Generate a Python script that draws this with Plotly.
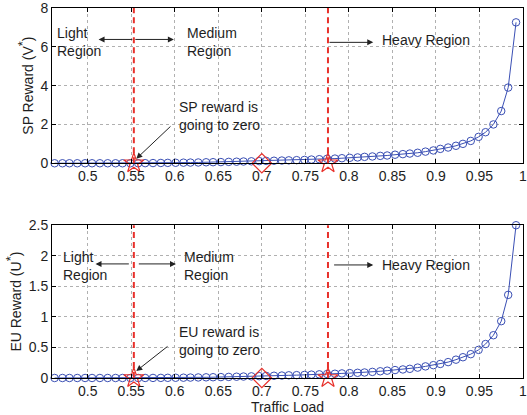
import plotly.graph_objects as go
from plotly.subplots import make_subplots

# ---------------- data ----------------
traffic_load = [0.462, 0.471, 0.479, 0.488, 0.497, 0.505, 0.514, 0.523, 0.532, 0.540,
                0.549, 0.558, 0.566, 0.575, 0.584, 0.592, 0.601, 0.610, 0.618, 0.627,
                0.636, 0.644, 0.653, 0.662, 0.671, 0.679, 0.688, 0.697, 0.705, 0.714,
                0.723, 0.731, 0.740, 0.749, 0.757, 0.766, 0.775, 0.784, 0.792, 0.801,
                0.810, 0.818, 0.827, 0.836, 0.844, 0.853, 0.862, 0.870, 0.879, 0.888,
                0.897, 0.905, 0.914, 0.923, 0.931, 0.940, 0.949, 0.957, 0.966, 0.975,
                0.983, 0.992]

sp_reward = [0, 0, 0, 0, 0, 0, 0, 0, 0, 0,
             0, 0, 0.005, 0.01, 0.015, 0.02, 0.025, 0.03, 0.035, 0.04,
             0.05, 0.055, 0.06, 0.07, 0.08, 0.09, 0.10, 0.11, 0.12, 0.13,
             0.14, 0.15, 0.16, 0.17, 0.19, 0.21, 0.23, 0.24, 0.26, 0.28,
             0.30, 0.33, 0.35, 0.38, 0.40, 0.44, 0.47, 0.50, 0.54, 0.60,
             0.66, 0.74, 0.81, 0.90, 1.00, 1.15, 1.36, 1.60, 2.00, 2.69,
             3.90, 7.26]

eu_reward = [0, 0, 0, 0, 0, 0, 0, 0, 0, 0,
             0, 0, 0.0005, 0.001, 0.002, 0.003, 0.004, 0.005, 0.007, 0.009,
             0.011, 0.013, 0.015, 0.018, 0.021, 0.024, 0.027, 0.030, 0.034, 0.037,
             0.040, 0.044, 0.047, 0.050, 0.055, 0.060, 0.065, 0.070, 0.075, 0.080,
             0.085, 0.090, 0.100, 0.110, 0.120, 0.130, 0.140, 0.150, 0.170, 0.190,
             0.210, 0.230, 0.260, 0.300, 0.340, 0.390, 0.460, 0.556, 0.700, 0.930,
             1.360, 2.500]

light_medium_boundary = 0.553
medium_heavy_boundary = 0.776
diamond_load = [0.7]
star_loads = [light_medium_boundary, medium_heavy_boundary]

x_tickvals = [0.5, 0.55, 0.6, 0.65, 0.7, 0.75, 0.8, 0.85, 0.9, 0.95, 1.0]
x_ticktext = ["0.5", "0.55", "0.6", "0.65", "0.7", "0.75", "0.8", "0.85", "0.9", "0.95", "1"]
sp_tickvals = [0, 2, 4, 6, 8]
eu_tickvals = [0, 0.5, 1, 1.5, 2, 2.5]
eu_ticktext = ["0", "0.5", "1", "1.5", "2", "2.5"]

# ---------------- styling ----------------
BLUE = "#3a4fb4"
RED = "#e8312b"
TXT = "#1e1e1e"
FONT = "Liberation Sans, Arial, sans-serif"
FS = 14

fig = make_subplots(rows=2, cols=1, vertical_spacing=0.1)

for row, yvals in ((1, sp_reward), (2, eu_reward)):
    fig.add_trace(go.Scatter(
        x=traffic_load, y=yvals, mode="lines+markers",
        line=dict(color=BLUE, width=1),
        marker=dict(symbol="circle-open", size=7.5, color=BLUE, line=dict(width=1)),
        cliponaxis=False, showlegend=False), row=row, col=1)
    fig.add_trace(go.Scatter(
        x=star_loads, y=[0, 0], mode="markers",
        marker=dict(symbol="star-open", size=15, color=RED, line=dict(width=1.2)),
        cliponaxis=False, showlegend=False), row=row, col=1)
    fig.add_trace(go.Scatter(
        x=diamond_load, y=[0], mode="markers",
        marker=dict(symbol="diamond-open", size=15, color=RED, line=dict(width=1.2)),
        cliponaxis=False, showlegend=False), row=row, col=1)
    for xb in (light_medium_boundary, medium_heavy_boundary):
        fig.add_vline(x=xb, line=dict(color=RED, width=2, dash="6px,4px"), row=row, col=1)

common_x = dict(range=[0.459, 1.0], tickvals=x_tickvals, ticktext=x_ticktext,
                showgrid=True, gridcolor="#b0b0b0", griddash="dot", gridwidth=1,
                showline=True, linecolor="black", linewidth=1, mirror="ticks",
                ticks="inside", ticklen=4, tickcolor="black", ticklabeloverflow="allow",
                tickfont=dict(size=FS, color=TXT, family=FONT), zeroline=False)
common_y = dict(showgrid=True, gridcolor="#b0b0b0", griddash="dot", gridwidth=1,
                showline=True, linecolor="black", linewidth=1, mirror="ticks",
                ticks="inside", ticklen=4, tickcolor="black", ticklabeloverflow="allow",
                tickfont=dict(size=FS, color=TXT, family=FONT), zeroline=False)

STAR = "<sup><span style='font-size:13px'>*</span></sup>"

fig.update_xaxes(**common_x, row=1, col=1)
fig.update_xaxes(**common_x, row=2, col=1,
                 title=dict(text="Traffic Load", font=dict(size=FS, color=TXT, family=FONT), standoff=1))
fig.update_yaxes(**common_y, row=1, col=1, range=[0, 8], tickvals=sp_tickvals,
                 title=dict(text="SP Reward (V" + STAR + ")", font=dict(size=FS, color=TXT, family=FONT), standoff=3))
fig.update_yaxes(**common_y, row=2, col=1, range=[0, 2.5], tickvals=eu_tickvals, ticktext=eu_ticktext,
                 title=dict(text="EU Reward (U" + STAR + ")", font=dict(size=FS, color=TXT, family=FONT), standoff=3))

fig.update_layout(
    width=527, height=415,
    margin=dict(l=52, r=0, t=5, b=37),
    paper_bgcolor="white", plot_bgcolor="white",
    font=dict(family=FONT, color=TXT, size=FS),
    yaxis=dict(domain=[0.5804, 1.0]),
    yaxis2=dict(domain=[0.0, 0.4129]),
)

def text_note(x, y, text, xref, yref):
    fig.add_annotation(x=x, y=y, xref=xref, yref=yref, text=text, showarrow=False,
                       xanchor="left", yanchor="middle", align="left",
                       font=dict(size=FS, color=TXT, family=FONT))

def arrow(x_head, y_head, x_tail, y_tail, xref, yref):
    fig.add_annotation(x=x_head, y=y_head, ax=x_tail, ay=y_tail, xref=xref, yref=yref,
                       axref=xref, ayref=yref, text="", showarrow=True,
                       arrowhead=2, arrowsize=1.2, arrowwidth=1, arrowcolor="#222222")

# top panel
text_note(0.4620, 6.23, "Light<br>Region", "x", "y")
text_note(0.6116, 6.23, "Medium<br>Region", "x", "y")
arrow(0.5125, 6.38, 0.553, 6.38, "x", "y")
arrow(0.599, 6.38, 0.553, 6.38, "x", "y")
text_note(0.8360, 6.35, "Heavy Region", "x", "y")
arrow(0.828, 6.23, 0.776, 6.23, "x", "y")
text_note(0.6020, 2.46, "SP reward is<br>going to zero", "x", "y")
arrow(0.5558, 0.23, 0.5968, 1.97, "x", "y")

# bottom panel
text_note(0.4690, 1.826, "Light<br>Region", "x2", "y2")
text_note(0.6080, 1.84, "Medium<br>Region", "x2", "y2")
arrow(0.509, 1.867, 0.549, 1.867, "x2", "y2")
arrow(0.6014, 1.867, 0.557, 1.867, "x2", "y2")
text_note(0.8360, 1.85, "Heavy Region", "x2", "y2")
arrow(0.828, 1.85, 0.7813, 1.85, "x2", "y2")
text_note(0.6030, 0.60, "EU reward is<br>going to zero", "x2", "y2")
arrow(0.5558, 0.114, 0.5934, 0.536, "x2", "y2")

fig.write_html("out.html")
